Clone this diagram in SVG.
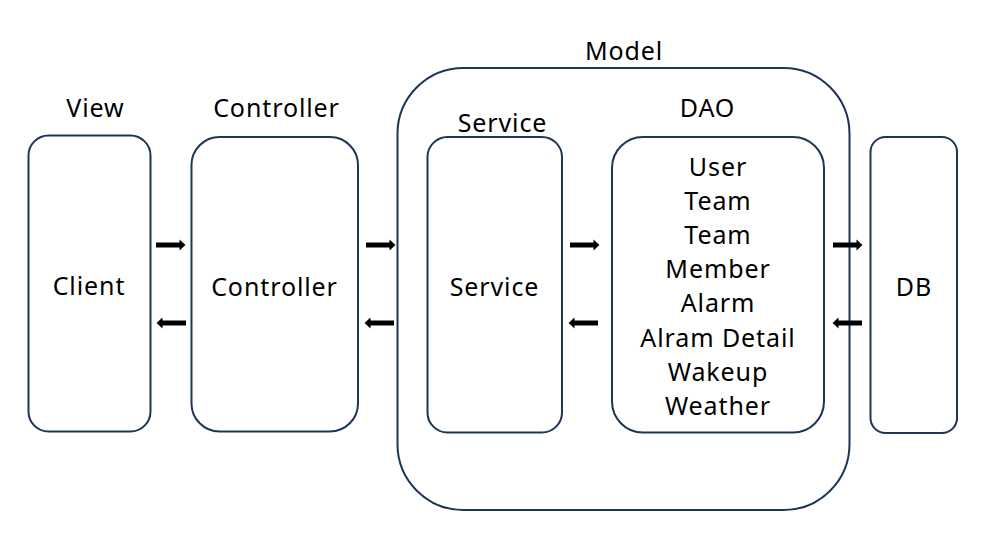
<svg xmlns="http://www.w3.org/2000/svg" xmlns:xlink="http://www.w3.org/1999/xlink" width="987" height="538" viewBox="0 0 987 538">
<style>
.box{fill:#ffffff;stroke:#1f3557;stroke-width:2}
.t{font-family:"Noto Sans","Open Sans","DejaVu Sans",sans-serif;font-size:25px;letter-spacing:0.9px;fill:#000;text-anchor:middle}
.ar{fill:#000}
</style>
<defs>
<path id="arr" d="M0,-2.6 H23.5 V-5.5 L29.5,0 L23.5,5.5 V2.6 H0 Z"/>
</defs>
<rect width="987" height="538" fill="#fff"/>
<g id="model">
<rect class="box" x="397.5" y="68" width="452" height="442" rx="66" ry="66"/>
<text class="t" x="624" y="60">Model</text>
</g>
<g id="view">
<rect class="box" x="28.5" y="135.5" width="122" height="296" rx="20" ry="20"/>
<text class="t" x="95.5" y="117">View</text>
<text class="t" x="89" y="295">Client</text>
</g>
<g id="controller">
<rect class="box" x="191.5" y="137" width="166.5" height="294.5" rx="28" ry="28"/>
<text class="t" x="276.5" y="117">Controller</text>
<text class="t" x="274.5" y="295.5">Controller</text>
</g>
<g id="service">
<rect class="box" x="427.5" y="137" width="134.5" height="295.5" rx="20" ry="20"/>
<text class="t" x="502.5" y="131.5">Service</text>
<text class="t" x="494.5" y="295.5">Service</text>
</g>
<g id="dao">
<rect class="box" x="612" y="137" width="212" height="295.5" rx="31" ry="31"/>
<text class="t" x="707.5" y="117">DAO</text>
<text class="t" x="718" y="175.5">User</text>
<text class="t" x="718" y="209.7">Team</text>
<text class="t" x="718" y="243.9">Team</text>
<text class="t" x="718" y="278.1">Member</text>
<text class="t" x="718" y="312.3">Alarm</text>
<text class="t" x="718" y="346.5">Alram Detail</text>
<text class="t" x="718" y="380.7">Wakeup</text>
<text class="t" x="718" y="414.9">Weather</text>
</g>
<g id="db">
<rect class="box" x="870.5" y="137" width="86.5" height="296" rx="15" ry="15"/>
<text class="t" x="914" y="295.5">DB</text>
</g>
<g id="connectors" class="ar">
<use xlink:href="#arr" transform="translate(156,245)"/>
<use xlink:href="#arr" transform="translate(186,323) scale(-1,1)"/>
<use xlink:href="#arr" transform="translate(366,245)"/>
<use xlink:href="#arr" transform="translate(394,323) scale(-1,1)"/>
<use xlink:href="#arr" transform="translate(570,245)"/>
<use xlink:href="#arr" transform="translate(598,323) scale(-1,1)"/>
<use xlink:href="#arr" transform="translate(833,245)"/>
<use xlink:href="#arr" transform="translate(862,323) scale(-1,1)"/>
</g>
</svg>
